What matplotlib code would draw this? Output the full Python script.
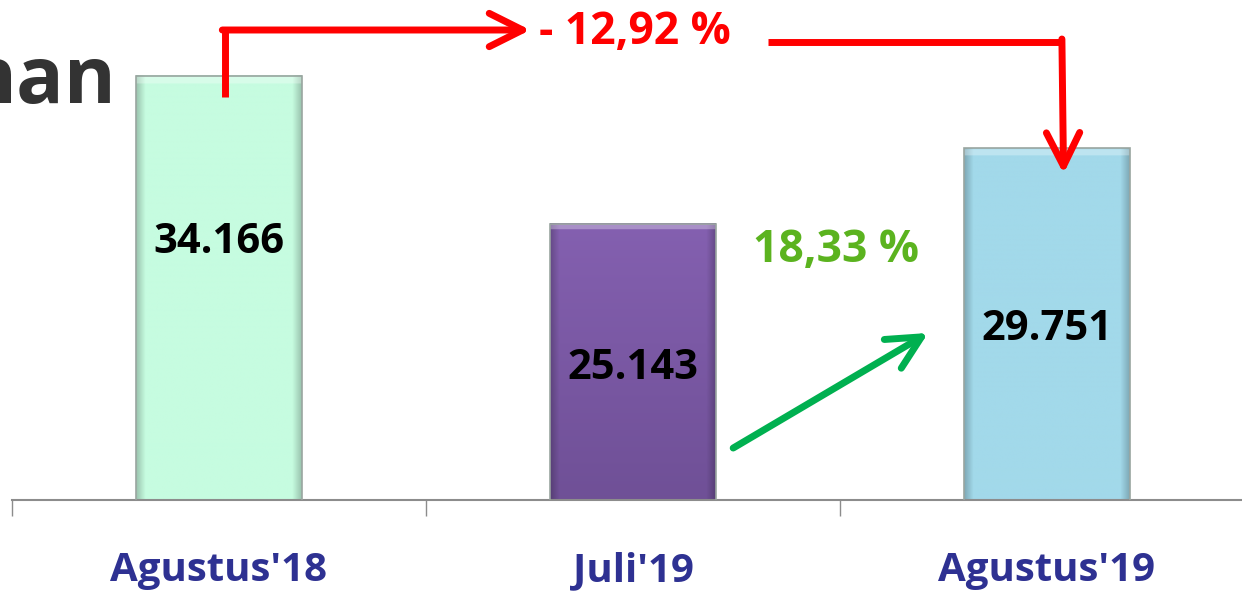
import numpy as np
import matplotlib.pyplot as plt
from matplotlib.colors import to_rgb

# data
months = ["Agustus'18", "Juli'19", "Agustus'19"]
values = [34166, 25143, 29751]
value_labels = ['34.166', '25.143', '29.751']
label_heights = [23980, 16350, 18670]
change_yoy = '- 12,92 %'
change_mom = '18,33 %'

bar_colors = ['#c6fce0', '#8460b0', '#a2d9ea']
bar_bottoms = ['#c6fce0', '#65488a', '#a2d9ea']

plt.rcParams['font.family'] = ['Open Sans', 'DejaVu Sans']


def shade(bar, top, bottom, ax):
  # fake the bevelled office-style bar with a clipped gradient image
  x0, y0 = bar.get_x(), bar.get_y()
  w, h = bar.get_width(), bar.get_height()
  ny, nx = 400, 60
  t = np.linspace(0, 1, ny)[:, None, None]
  c = np.array(to_rgb(top)) * (1 - t) + np.array(to_rgb(bottom)) * t
  img = np.repeat(c, nx, axis=1)
  xs = np.linspace(0, 1, nx)
  edge = np.clip(np.minimum(xs, 1 - xs) / 0.05, 0, 1)
  img = img * (0.8 + 0.2 * edge)[None, :, None]
  band = np.zeros(ny)
  band[1:6] = 1.0
  img = img + (1 - img) * 0.3 * band[:, None, None]
  ax.imshow(np.clip(img, 0, 1), extent=(x0, x0 + w, y0, y0 + h),
            aspect='auto', origin='upper', clip_path=bar, zorder=2,
            interpolation='bilinear')


fig = plt.figure(figsize=(12.42, 5.95), dpi=100)
ax = fig.add_axes([12 / 1242, 95 / 595, 1.0, 500 / 595])

x = np.arange(len(months))
bars = ax.bar(x, values, width=0.4, color=bar_colors, edgecolor='#9aa5a0',
              linewidth=1.2, zorder=3)
for b, c_top, c_bot in zip(bars, bar_colors, bar_bottoms):
  b.set_facecolor('none')
  shade(b, c_top, c_bot, ax)

for xi, yl, lab in zip(x, label_heights, value_labels):
  ax.text(xi, yl, lab, ha='center', va='center',
          fontsize=30, fontweight='bold', color='black', zorder=5)

ax.set_xlim(-0.5, 2.5)
ax.set_ylim(8300, 38800)

for s in ['top', 'right', 'left']:
  ax.spines[s].set_visible(False)
ax.spines['bottom'].set_color('#8c8c8c')
ax.spines['bottom'].set_linewidth(1.5)
ax.set_yticks([])

ax.set_xticks([-0.5, 0.5, 1.5])
ax.set_xticklabels([])
ax.tick_params(axis='x', which='major', length=11.5, width=1, color='#8c8c8c')
ax.set_xticks(x, minor=True)
ax.set_xticklabels(months, minor=True, fontsize=29, fontweight='bold', color='#2e3192')
ax.tick_params(axis='x', which='minor', length=0, pad=37)

# year-on-year change: red elbow arrow over the chart
red = '#ff0000'
y_top = 36970
ax.plot([0.014, 0.014], [values[0] - 1300, y_top], color=red, lw=5,
        solid_capstyle='butt', zorder=6)
ax.annotate('', xy=(0.752, y_top), xytext=(0.014 - 0.006, y_top),
            arrowprops=dict(arrowstyle='->,head_length=2.4,head_width=1.2',
                            color=red, lw=5, shrinkA=0, shrinkB=0,
                            mutation_scale=10), zorder=6)
ax.text(1.005, 36800, change_yoy, ha='center', va='center', fontsize=32,
        fontweight='bold', color=red, zorder=6)
y_right = 36240
ax.plot([1.326, 2.036], [y_right, y_right], color=red, lw=5,
        solid_capstyle='butt', zorder=6)
ax.annotate('', xy=(2.04, values[2] - 1550), xytext=(2.036, y_right + 180),
            arrowprops=dict(arrowstyle='->,head_length=2.4,head_width=1.2',
                            color=red, lw=5, shrinkA=0, shrinkB=0,
                            mutation_scale=10), zorder=6)

# month-on-month change: green arrow
ax.annotate('', xy=(1.713, 18490), xytext=(1.242, 11470),
            arrowprops=dict(arrowstyle='->,head_length=2.4,head_width=1.2',
                            color='#00b050', lw=5, shrinkA=0, shrinkB=0,
                            mutation_scale=10), zorder=6)
ax.text(1.49, 23550, change_mom, ha='center', va='center', fontsize=32,
        fontweight='bold', color='#5bb31f', zorder=6)

# tail of the slide title that is cut off at the left edge
fig.text(117 / 1242, 1 - 103 / 595, 'nan', ha='right', va='baseline',
         fontsize=57, fontweight='bold', color='#333333')

fig.savefig('out.png', dpi=100)
